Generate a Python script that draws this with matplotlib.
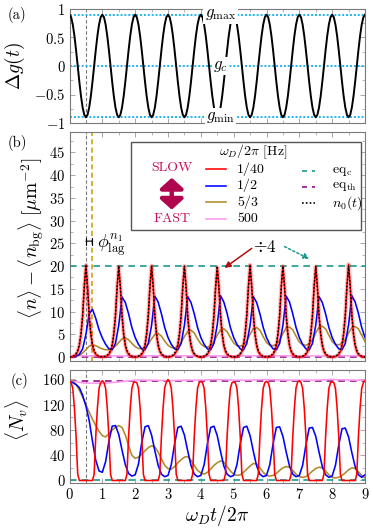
import numpy as np
import matplotlib
matplotlib.use('Agg')
import matplotlib.pyplot as plt
from matplotlib.patches import Rectangle, FancyArrowPatch
from matplotlib.lines import Line2D
from matplotlib.ticker import AutoMinorLocator, MultipleLocator

plt.rcParams.update({
    'font.family': 'serif', 'font.serif': ['cmr10', 'DejaVu Serif'],
    'mathtext.fontset': 'cm', 'axes.formatter.use_mathtext': True,
})

# ---------------- data ----------------
t05 = np.linspace(0, 9, 181)   # drive periods, step 0.05
t10 = np.linspace(0, 9, 91)    # step 0.1
t50 = np.linspace(0, 9, 19)    # step 0.5
t100 = np.linspace(0, 9, 10)   # step 1

# (a) drive
dg_period = [0.9, 0.856, 0.728, 0.529, 0.278, 0.0, -0.278, -0.529, -0.728, -0.856,
             -0.9, -0.856, -0.728, -0.529, -0.278, 0.0, 0.278, 0.529, 0.728, 0.856]
delta_g = dg_period * 9 + [0.9]
g_levels = [0.9, 0.0, -0.9]
g_names = [r'$g_{\max}$', r'$g_c$', r'$g_{\min}$']

# (b) density
n_red = [
 0, 0, 0.1, 0.3, 0.6, 1.2, 2.5, 5.0, 9.0, 15.5, 20.2, 15.5, 9.0, 5.0, 2.5, 1.2, 0.6, 0.3, 0.1, 0,
 0, 0, 0.1, 0.3, 0.6, 1.2, 2.5, 5.0, 9.0, 15.4, 19.9, 15.4, 9.0, 5.0, 2.5, 1.2, 0.6, 0.3, 0.1, 0,
 0, 0, 0.1, 0.3, 0.6, 1.2, 2.5, 5.0, 9.1, 15.5, 20.1, 15.5, 9.1, 5.0, 2.5, 1.2, 0.6, 0.3, 0.1, 0,
 0, 0, 0.1, 0.3, 0.6, 1.2, 2.5, 5.0, 9.0, 15.5, 20.0, 15.5, 9.0, 5.0, 2.5, 1.2, 0.6, 0.3, 0.1, 0,
 0, 0, 0.1, 0.3, 0.6, 1.2, 2.5, 5.0, 9.0, 15.3, 19.8, 15.3, 9.0, 5.0, 2.5, 1.2, 0.6, 0.3, 0.1, 0,
 0, 0, 0.1, 0.3, 0.6, 1.2, 2.5, 5.0, 9.2, 15.6, 20.3, 15.6, 9.2, 5.0, 2.5, 1.2, 0.6, 0.3, 0.1, 0,
 0, 0, 0.1, 0.3, 0.6, 1.2, 2.5, 5.0, 9.0, 15.5, 20.0, 15.5, 9.0, 5.0, 2.5, 1.2, 0.6, 0.3, 0.1, 0,
 0, 0, 0.1, 0.3, 0.6, 1.2, 2.5, 5.0, 9.0, 15.4, 19.9, 15.4, 9.0, 5.0, 2.5, 1.2, 0.6, 0.3, 0.1, 0,
 0, 0, 0.1, 0.3, 0.6, 1.2, 2.5, 5.0, 9.2, 15.7, 20.4, 15.7, 9.2, 5.0, 2.5, 1.2, 0.6, 0.3, 0.1, 0,
 0]
n0_theory = [
 0.05, 0.1, 0.2, 0.4, 0.8, 1.5, 2.8, 5.2, 9.2, 15.3, 20.0, 15.3, 9.2, 5.2, 2.8, 1.5, 0.8, 0.4, 0.2, 0.1,
 0.05, 0.1, 0.2, 0.4, 0.8, 1.5, 2.8, 5.2, 9.2, 15.3, 20.0, 15.3, 9.2, 5.2, 2.8, 1.5, 0.8, 0.4, 0.2, 0.1,
 0.05, 0.1, 0.2, 0.4, 0.8, 1.5, 2.8, 5.2, 9.2, 15.3, 20.0, 15.3, 9.2, 5.2, 2.8, 1.5, 0.8, 0.4, 0.2, 0.1,
 0.05, 0.1, 0.2, 0.4, 0.8, 1.5, 2.8, 5.2, 9.2, 15.3, 20.0, 15.3, 9.2, 5.2, 2.8, 1.5, 0.8, 0.4, 0.2, 0.1,
 0.05, 0.1, 0.2, 0.4, 0.8, 1.5, 2.8, 5.2, 9.2, 15.3, 20.0, 15.3, 9.2, 5.2, 2.8, 1.5, 0.8, 0.4, 0.2, 0.1,
 0.05, 0.1, 0.2, 0.4, 0.8, 1.5, 2.8, 5.2, 9.2, 15.3, 20.0, 15.3, 9.2, 5.2, 2.8, 1.5, 0.8, 0.4, 0.2, 0.1,
 0.05, 0.1, 0.2, 0.4, 0.8, 1.5, 2.8, 5.2, 9.2, 15.3, 20.0, 15.3, 9.2, 5.2, 2.8, 1.5, 0.8, 0.4, 0.2, 0.1,
 0.05, 0.1, 0.2, 0.4, 0.8, 1.5, 2.8, 5.2, 9.2, 15.3, 20.0, 15.3, 9.2, 5.2, 2.8, 1.5, 0.8, 0.4, 0.2, 0.1,
 0.05, 0.1, 0.2, 0.4, 0.8, 1.5, 2.8, 5.2, 9.2, 15.3, 20.0, 15.3, 9.2, 5.2, 2.8, 1.5, 0.8, 0.4, 0.2, 0.1,
 0.05]
n_blue = [
 0.0, 0.05, 0.2, 0.6, 1.8, 5.0, 9.5, 10.5, 8.5, 6.0,
 4.2, 2.8, 1.8, 1.6, 3.0, 7.0, 13.2, 12.0, 9.5, 6.5,
 4.3, 2.8, 1.8, 1.6, 3.0, 7.0, 13.4, 12.1, 9.5, 6.5,
 4.3, 2.8, 1.8, 1.6, 3.0, 7.0, 13.3, 12.0, 9.5, 6.5,
 4.3, 2.8, 1.8, 1.6, 3.0, 7.1, 13.5, 12.1, 9.6, 6.5,
 4.3, 2.8, 1.8, 1.6, 3.0, 7.0, 13.3, 12.0, 9.5, 6.5,
 4.3, 2.8, 1.8, 1.6, 3.0, 7.0, 13.4, 12.1, 9.5, 6.5,
 4.3, 2.8, 1.8, 1.6, 3.0, 7.0, 13.3, 12.0, 9.5, 6.5,
 4.3, 2.8, 1.8, 1.6, 3.0, 7.1, 13.5, 12.1, 9.6, 6.5,
 4.3]
n_olive = [
 0.0, 0.05, 0.15, 0.4, 0.9, 1.6, 2.4, 2.7, 2.5, 2.1,
 1.8, 1.6, 1.6, 1.8, 2.4, 3.2, 4.0, 4.2, 3.8, 3.0,
 2.3, 1.9, 1.8, 2.1, 2.9, 4.0, 5.0, 5.2, 4.6, 3.5,
 2.6, 2.1, 2.0, 2.3, 3.2, 4.5, 5.6, 5.9, 5.3, 4.0,
 2.9, 2.3, 2.2, 2.5, 3.4, 4.8, 6.0, 6.2, 5.6, 4.3,
 3.1, 2.5, 2.4, 2.7, 3.6, 5.0, 6.3, 6.5, 5.9, 4.5,
 3.2, 2.6, 2.5, 2.8, 3.7, 5.2, 6.4, 6.6, 6.0, 4.6,
 3.3, 2.7, 2.6, 2.9, 3.8, 5.3, 6.6, 6.8, 6.2, 4.8,
 3.4, 2.8, 2.7, 3.0, 3.8, 5.3, 6.5, 6.7, 6.2, 4.8,
 3.4]
n_pink = [0.3, 0.25, 0.25, 0.3, 0.25, 0.25, 0.3, 0.25, 0.25, 0.3]
eq_c_b, eq_th_b = 20.0, 0.0

# (c) vortex number
nv_red = [
 157, 155, 146, 115, 70, 10, 0, 0, 0, 0, 0, 0, 0, 0, 0, 10, 70, 115, 146, 155,
 158, 155, 146, 115, 70, 10, 0, 0, 0, 0, 0, 0, 0, 0, 0, 10, 70, 115, 146, 155,
 156, 155, 146, 115, 70, 10, 0, 0, 0, 0, 0, 0, 0, 0, 0, 10, 70, 115, 147, 156,
 160, 156, 146, 115, 70, 10, 0, 0, 0, 0, 0, 0, 0, 0, 0, 10, 70, 115, 146, 155,
 157, 155, 146, 115, 70, 10, 0, 0, 0, 0, 0, 0, 0, 0, 0, 10, 70, 115, 146, 155,
 156, 155, 146, 115, 70, 10, 0, 0, 0, 0, 0, 0, 0, 0, 0, 10, 70, 115, 146, 155,
 157, 155, 146, 115, 70, 10, 0, 0, 0, 0, 0, 0, 0, 0, 0, 10, 70, 115, 147, 156,
 158, 155, 146, 115, 70, 10, 0, 0, 0, 0, 0, 0, 0, 0, 0, 10, 70, 115, 146, 155,
 156, 155, 146, 115, 70, 10, 0, 0, 0, 0, 0, 0, 0, 0, 0, 10, 70, 115, 146, 155,
 158]
nv_blue = [
 157, 155, 152, 147, 135, 118, 95, 62, 32, 15,
 13, 30, 62, 86, 87, 73, 48, 25, 11, 7,
 9, 26, 60, 85, 87, 72, 47, 24, 10, 6,
 8, 25, 58, 84, 86, 72, 47, 24, 10, 6,
 8, 25, 58, 84, 86, 71, 46, 23, 10, 6,
 8, 25, 58, 84, 86, 71, 46, 23, 10, 6,
 8, 25, 58, 84, 85, 70, 45, 23, 10, 6,
 8, 24, 56, 83, 84, 70, 45, 22, 9, 5,
 7, 24, 56, 82, 83, 69, 44, 22, 9, 5,
 9]
nv_olive = [
 158, 157, 152, 143, 132, 120, 108, 97, 87, 78,
 71, 69, 74, 80, 84, 87, 84, 72, 55, 40,
 35, 37, 42, 47, 52, 55, 53, 45, 34, 24,
 19, 18, 22, 28, 33, 37, 38, 32, 24, 16,
 12, 10, 13, 18, 24, 28, 31, 29, 22, 15,
 10, 8, 9, 13, 18, 23, 27, 26, 20, 13,
 8, 7, 8, 11, 16, 20, 22, 21, 16, 10,
 6, 5, 6, 10, 15, 19, 21, 20, 15, 9,
 5, 4, 5, 8, 12, 17, 20, 19, 14, 8,
 4]
nv_pink = [158, 154, 154, 156, 159, 159, 158, 159, 159, 160, 159, 159, 160, 159, 159, 159, 160, 159, 159]
eq_c_c, eq_th_c = 0.0, 158.0

t_ref = 0.5     # drive minimum
t_lag = 0.69    # lag of 5/3 Hz density

rates = ['1/40', '1/2', '5/3', '500']
C_RED, C_BLUE, C_OLIVE, C_PINK = '#ff0000', '#0000ff', '#b08a28', '#ff99ee'
C_TEAL, C_PURP, C_CYAN = '#1a9a8e', '#8a0f8a', '#1eb4f0'
C_CRIM = '#c8105a'
LW = 1.15

# ---------------- figure ----------------
fig = plt.figure(figsize=(3.73, 5.30), dpi=100)
L, R = 69.5 / 373, 365 / 373
def rect(top, bot):
    return [L, 1 - bot / 530, R - L, (bot - top) / 530]
axa = fig.add_axes(rect(9, 123))
axb = fig.add_axes(rect(132, 360.7))
axc = fig.add_axes(rect(370, 482.7))

FS = 10.5
LFS = 10
for ax in (axa, axb, axc):
    ax.set_xlim(0, 9)
    ax.xaxis.set_major_locator(MultipleLocator(1))
    ax.xaxis.set_minor_locator(AutoMinorLocator(2))
    ax.yaxis.set_minor_locator(AutoMinorLocator(2))
    ax.tick_params(which='both', direction='in', top=True, right=True,
                   color='#999999', labelsize=FS, pad=3)
    ax.tick_params(which='major', length=3.5, width=0.6)
    ax.tick_params(which='minor', length=2, width=0.5)
    for s in ax.spines.values():
        s.set_color('#7a7a7a'); s.set_linewidth(0.8)
    ax.axvline(t_ref, color='#777777', ls=(0, (3, 2)), lw=0.8, zorder=1)

# (a)
axa.set_ylim(-1, 1)
axa.set_yticks([1, 0.5, 0, -0.5, -1])
axa.set_yticklabels([r'$1$', r'$0.5$', r'$0$', r'$-0.5$', r'$-1$'])
axa.tick_params(labelbottom=False)
for gv in g_levels:
    axa.axhline(gv, color=C_CYAN, ls=(0, (1, 1)), lw=1.4, zorder=2)
axa.plot(t05, delta_g, color='black', lw=1.4, zorder=3)
for gv, gn in zip(g_levels, g_names):
    axa.text(4.6, gv, gn, ha='center', va='center', fontsize=12, zorder=5,
             bbox=dict(facecolor='white', edgecolor='none', pad=1.0))

# (b)
axb.set_ylim(-0.8, 49.5)
axb.yaxis.set_major_locator(MultipleLocator(5))
axb.tick_params(labelbottom=False)
axb.axvline(t_lag, color='#d0a020', ls=(0, (3, 2)), lw=1.2, zorder=1)
axb.axhline(eq_c_b, color=C_TEAL, ls=(0, (4, 3)), lw=1.2, zorder=2)
axb.axhline(eq_th_b, color=C_PURP, ls=(0, (4, 3)), lw=1.2, zorder=2)
axb.plot(t100, n_pink, color=C_PINK, lw=LW, zorder=3)
axb.plot(t10, n_olive, color=C_OLIVE, lw=LW, zorder=3)
axb.plot(t10, n_blue, color=C_BLUE, lw=LW, zorder=3)
axb.plot(t05, n_red, color=C_RED, lw=3.0, alpha=0.25, zorder=3)
axb.plot(t05, n_red, color=C_RED, lw=LW, zorder=4)
axb.plot(t05, n0_theory, color='black', ls=(0, (1, 1.3)), lw=1.1, zorder=5)

axb.annotate('', xy=(t_ref, 25.5), xytext=(t_lag, 25.5),
             arrowprops=dict(arrowstyle='|-|, widthA=0.25, widthB=0.25', lw=0.8, color='black',
                             shrinkA=0, shrinkB=0))
axb.text(0.84, 24.6, r'$\phi^{n_1}_{\mathrm{lag}}$', fontsize=13, ha='left', va='center')
axb.text(5.95, 24.2, r'$\div 4$', fontsize=12.5, ha='center', va='center')
axb.annotate('', xy=(4.72, 19.6), xytext=(5.55, 23.9),
             arrowprops=dict(arrowstyle='-|>', lw=1.1, color='#b01010',
                             shrinkA=0, shrinkB=0, mutation_scale=9))
axb.annotate('', xy=(7.3, 21.6), xytext=(6.55, 24.3),
             arrowprops=dict(arrowstyle='-|>', lw=1.1, color=C_TEAL, ls=(0, (1.5, 1.5)),
                             shrinkA=0, shrinkB=0, mutation_scale=8))

# legend box (axes coords)
T = axb.transAxes
axb.add_patch(Rectangle((0.208, 0.571), 0.778, 0.387, transform=T, facecolor='white',
                        edgecolor='#555555', lw=1.0, zorder=6))
axb.text(0.621, 0.912, r'$\omega_D/2\pi$ [Hz]', transform=T, ha='center', va='center',
         fontsize=LFS, zorder=7)
axb.text(0.346, 0.841, 'SLOW', transform=T, ha='center', va='center', fontsize=LFS,
         color=C_CRIM, zorder=7)
axb.text(0.346, 0.618, 'FAST', transform=T, ha='center', va='center', fontsize=LFS,
         color=C_CRIM, zorder=7)
axb.add_patch(FancyArrowPatch((0.346, 0.648), (0.346, 0.812), transform=T,
                              arrowstyle='<|-|>,head_length=0.45,head_width=0.5',
                              mutation_scale=14, lw=3.2, color='#b0054e', zorder=7))
rows = [0.837, 0.765, 0.693, 0.620]
for y, lab, c in zip(rows, rates, [C_RED, C_BLUE, C_OLIVE, C_PINK]):
    axb.add_line(Line2D([0.462, 0.530], [y, y], transform=T, color=c, lw=LW, zorder=7))
    axb.text(0.567, y, lab, transform=T, ha='left', va='center', fontsize=LFS, zorder=7)
eq_rows = [0.829, 0.761, 0.688]
eq_labels = [r'eq$_{\mathrm{c}}$', r'eq$_{\mathrm{th}}$', r'$n_0(t)$']
eq_styles = [(C_TEAL, (0, (3, 3))), (C_PURP, (0, (3, 3))), ('black', (0, (1, 1.3)))]
for y, lab, (c, ls) in zip(eq_rows, eq_labels, eq_styles):
    axb.add_line(Line2D([0.786, 0.831], [y, y], transform=T, color=c, ls=ls, lw=1.2, zorder=7))
    axb.text(0.887, y, lab, transform=T, ha='left', va='center', fontsize=LFS, zorder=7)

# (c)
axc.set_ylim(-3.5, 175)
axc.set_yticks([0, 40, 80, 120, 160])
axc.yaxis.set_minor_locator(MultipleLocator(20))
axc.axhline(eq_c_c, color=C_TEAL, ls=(0, (4, 3)), lw=1.2, zorder=2)
axc.axhline(eq_th_c, color=C_PURP, ls=(0, (4, 3)), lw=1.2, zorder=2)
axc.plot(t50, nv_pink, color=C_PINK, lw=LW, zorder=3)
axc.plot(t10, nv_olive, color=C_OLIVE, lw=LW, zorder=3)
axc.plot(t10, nv_blue, color=C_BLUE, lw=LW, zorder=4)
axc.plot(t05, nv_red, color=C_RED, lw=LW, zorder=5)

# labels
fig.text(17 / 373, 1 - 15 / 530, '(a)', fontsize=FS, ha='center', va='center')
fig.text(17 / 373, 1 - 143 / 530, '(b)', fontsize=FS, ha='center', va='center')
fig.text(19 / 373, 1 - 381 / 530, '(c)', fontsize=FS, ha='center', va='center')
fig.text(15 / 373, 1 - 66 / 530, r'$\Delta g(t)$', fontsize=14, rotation=90, ha='center', va='center')
fig.text(31 / 373, 1 - 238 / 530, r'$\langle n\rangle - \langle n_{\mathrm{bg}}\rangle\ [\mu\mathrm{m}^{-2}]$',
         fontsize=14, rotation=90, ha='center', va='center')
fig.text(17 / 373, 1 - 420 / 530, r'$\langle N_v\rangle$', fontsize=14, rotation=90, ha='center', va='center')
fig.text(217 / 373, 1 - 515 / 530, r'$\omega_D t/2\pi$', fontsize=14, ha='center', va='center')

fig.savefig('out.png', dpi=100)
